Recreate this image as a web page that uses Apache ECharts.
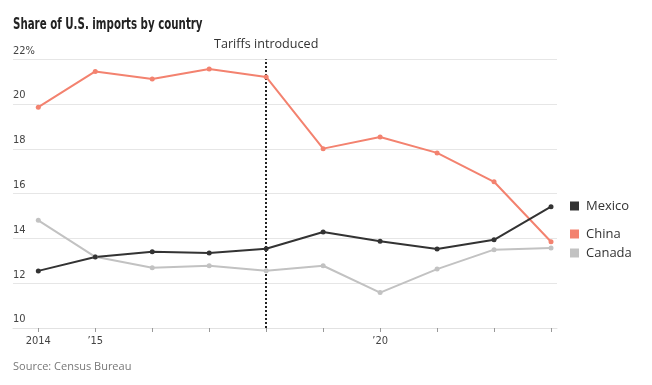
<!DOCTYPE html>
<html>
<head>
<meta charset="utf-8">
<script src="https://cdn.jsdelivr.net/npm/echarts@6/dist/echarts.min.js"></script>
<style>
html,body{margin:0;padding:0;background:#fff;}
#chart{width:652px;height:385px;}
</style>
</head>
<body>
<div id="chart"></div>
<script>
var years = [2014, 2015, 2016, 2017, 2018, 2019, 2020, 2021, 2022, 2023];
var mexico = [12.55, 13.17, 13.41, 13.35, 13.54, 14.29, 13.87, 13.53, 13.94, 15.42];
var china  = [19.86, 21.46, 21.12, 21.57, 21.21, 18.01, 18.53, 17.82, 16.53, 13.85];
var canada = [14.81, 13.18, 12.69, 12.78, 12.56, 12.78, 11.58, 12.63, 13.50, 13.57];
var yTicks = [10, 12, 14, 16, 18, 20, 22];
var xLabelYears = [2014, 2015, 2020];
var xLabelText = {2014: '2014', 2015: '\u201915', 2020: '\u201920'};
var tariffYear = 2018;
var tariffLabel = 'Tariffs introduced';
var titleText = 'Share of U.S. imports by country';
var sourceText = 'Source: Census Bureau';

function pairs(vals) { return years.map(function (y, i) { return [y, vals[i]]; }); }

var colors = { Mexico: '#333333', China: '#f3826f', Canada: '#c2c2c2' };
var condensed = "'Liberation Sans Narrow', 'DejaVu Sans Condensed', sans-serif";
var body = "'Open Sans', 'Liberation Sans', sans-serif";

function mkSeries(name, vals, extra) {
  var s = {
    name: name, type: 'line', data: pairs(vals),
    symbol: 'circle', symbolSize: 5, showSymbol: true,
    lineStyle: { color: colors[name], width: 2 },
    itemStyle: { color: colors[name] },
    emphasis: { disabled: true }, animation: false, z: 3
  };
  if (extra) for (var k in extra) s[k] = extra[k];
  return s;
}

var chart = echarts.init(document.getElementById('chart'));
chart.setOption({
  animation: false,
  grid: { left: 13, right: 95, top: 59.3, bottom: 57 },
  xAxis: {
    type: 'value', min: 2013.556, max: 2023.105,
    axisLine: { show: true, lineStyle: { color: '#e2e2e2', width: 1 } },
    axisTick: { show: true, customValues: years, length: 4, lineStyle: { color: '#999' } },
    axisLabel: {
      show: true, customValues: xLabelYears, margin: 8,
      formatter: function (v) { return xLabelText[v] || ''; },
      fontFamily: condensed, fontSize: 11, color: '#444'
    },
    splitLine: { show: false }
  },
  yAxis: {
    type: 'value', min: 10, max: 22, interval: 2,
    axisLine: { show: false }, axisTick: { show: false },
    axisLabel: {
      inside: true, margin: 0, verticalAlign: 'bottom', align: 'left',
      padding: [0, 0, 3, 0],
      formatter: function (v) { return v === 22 ? v + '%' : String(v); },
      fontFamily: condensed, fontSize: 11, color: '#444'
    },
    splitLine: { show: true, lineStyle: { color: '#e6e6e6', width: 1 } }
  },
  legend: [
    { data: ['Mexico'], left: 565, top: 194.5 },
    { data: ['China'], left: 565, top: 222.5 },
    { data: ['Canada'], left: 565, top: 241.5 }
  ].map(function (l) {
    l.orient = 'vertical'; l.icon = 'rect'; l.itemWidth = 9; l.itemHeight = 9; l.itemGap = 4;
    l.selectedMode = false;
    l.textStyle = { fontFamily: body, fontSize: 13, color: '#333', padding: [0, 0, 0, 2] };
    return l;
  }),
  graphic: [{
    type: 'text', x: 13, y: 18, scaleX: 0.76,
    style: { text: titleText, fontFamily: condensed, fontWeight: 'bold', fontSize: 15, fill: '#222' }
  }, {
    type: 'text', left: 13, top: 361,
    style: { text: sourceText, fontFamily: body, fontSize: 11, fill: '#777' }
  }],
  series: [
    mkSeries('Canada', canada),
    mkSeries('China', china, {
      markLine: {
        silent: true, symbol: ['none', 'none'], animation: false,
        lineStyle: { color: '#222', type: [2, 2], width: 2 },
        label: { show: true, position: 'end', formatter: tariffLabel, fontFamily: body, fontSize: 12.6, color: '#333', distance: 8 },
        data: [{ xAxis: tariffYear }],
        z: 2
      }
    }),
    mkSeries('Mexico', mexico)
  ]
});
</script>
</body>
</html>
